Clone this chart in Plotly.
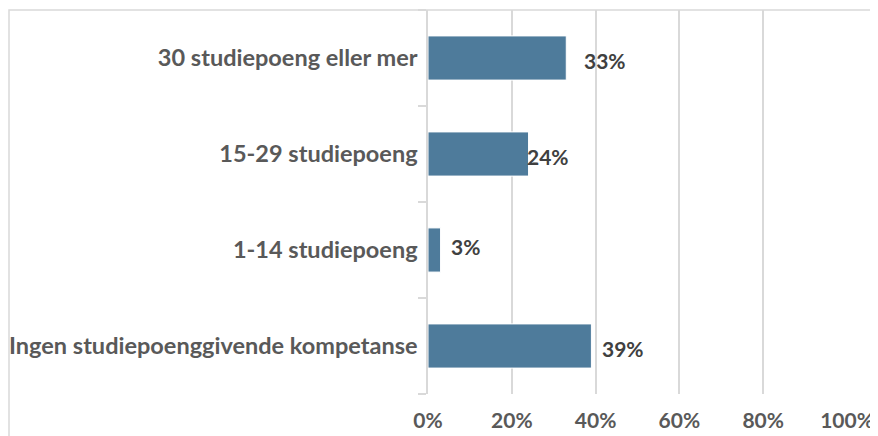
import plotly.graph_objects as go

categories = ["Ingen studiepoenggivende kompetanse", "1-14 studiepoeng",
              "15-29 studiepoeng", "30 studiepoeng eller mer"]
values = [39, 3, 24, 33]
labels = ["39%", "3%", "24%", "33%"]
label_xshift = [9, 8, -4, 16]
label_yshift = [-2, 4, -2, -2]
tick_vals = [0, 20, 40, 60, 80, 100]
tick_text = ["0%", "20%", "40%", "60%", "80%", "100%"]

FONT = "Lato"
SIZE = 21
CAT_SIZE = 23.5
fig = go.Figure(go.Bar(
    y=categories, x=values, orientation="h",
    marker=dict(color="#4e7b9b", line=dict(color="#ffffff", width=1)),
    hoverinfo="skip",
))

for c, v, t, xs, ys in zip(categories, values, labels, label_xshift, label_yshift):
    fig.add_annotation(x=v, y=c, text="<b>%s</b>" % t, showarrow=False,
                       xanchor="left", yanchor="middle", xshift=xs, yshift=ys,
                       font=dict(family=FONT, size=SIZE, color="#404040"))

fig.add_shape(type="rect", xref="paper", yref="paper",
              x0=-1.0, x1=1.2, y0=-0.3, y1=1.0,
              line=dict(color="#d9d9d9", width=1.5), layer="below")

fig.update_layout(
    width=878, height=436,
    margin=dict(l=420, r=39, t=2, b=50),
    paper_bgcolor="white", plot_bgcolor="white",
    bargap=0.54, showlegend=False,
    font=dict(family=FONT, size=SIZE, color="#595959"),
    xaxis=dict(range=[0, 100], tickvals=tick_vals, ticktext=["<b>%s</b>" % t for t in tick_text],
               showgrid=True, gridcolor="#d9d9d9", gridwidth=1.5, zeroline=False,
               showline=False, ticks="", fixedrange=True, ticklabelstandoff=12,
               tickfont=dict(family=FONT, size=SIZE, color="#595959")),
    yaxis=dict(categoryorder="array", categoryarray=categories,
               ticktext=["<b>%s</b>" % c for c in categories], tickvals=categories,
               showline=True, linecolor="#d9d9d9", linewidth=1.5,
               ticks="outside", tickson="boundaries", ticklen=8, tickcolor="#d9d9d9",
               tickwidth=1.5, showgrid=False, ticklabelstandoff=4,
               tickfont=dict(family=FONT, size=CAT_SIZE, color="#595959"), fixedrange=True),
)

fig.write_html("out.html")
